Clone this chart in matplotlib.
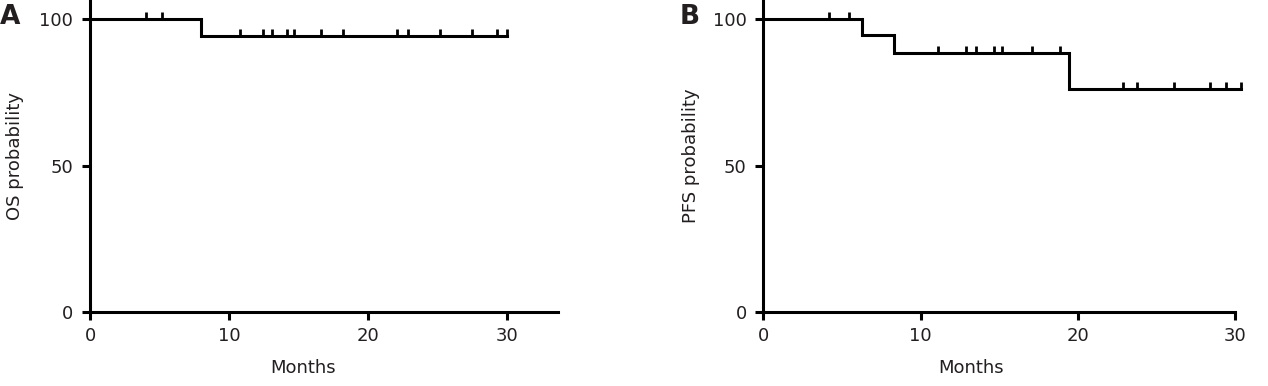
import matplotlib
matplotlib.use("Agg")
import matplotlib.pyplot as plt
import numpy as np

# ---- data ----
os_times = [0, 8.0, 30.0]
os_surv = [100, 94.2, 94.2]
os_censor = [4.0, 5.2, 10.8, 12.45, 13.1, 14.2, 14.7, 16.6, 18.2, 22.1, 22.9, 25.2, 27.5, 29.3, 30.0]

pfs_times = [0, 6.3, 8.3, 19.45, 30.4]
pfs_surv = [100, 94.4, 88.4, 76.0, 76.0]
pfs_censor = [4.18, 5.47, 11.1, 12.9, 13.5, 14.7, 15.2, 17.1, 18.9, 22.9, 23.75, 26.1, 28.4, 29.4, 30.4]

x_ticks = [0, 10, 20, 30]
y_ticks = [0, 50, 100]

TXT = "#231f20"
FS = 13
plt.rcParams['font.family'] = ['DejaVu Sans']

fig = plt.figure(figsize=(12.68, 3.86), dpi=100)
W, H = 1268, 386


def level_at(times, surv, t):
    idx = np.searchsorted(times, t, side='right') - 1
    return np.asarray(surv)[idx]


def panel(rect, times, surv, censor, xlim, ylabel, letter, letter_x, ylab_x, xlab_x):
    ax = fig.add_axes(rect)
    ax.step(times, surv, where='post', color='black', lw=2.2, clip_on=False, solid_joinstyle='miter')
    cs = [level_at(times, surv, t) for t in censor]
    ax.plot(censor, cs, linestyle='none', marker=2, ms=5, mew=2.0, color='black', clip_on=False)
    ax.set_xlim(*xlim)
    ax.set_ylim(0, 106.5)
    ax.set_xticks(x_ticks)
    ax.set_yticks(y_ticks)
    for s in ['top', 'right']:
        ax.spines[s].set_visible(False)
    for s in ['left', 'bottom']:
        ax.spines[s].set_linewidth(2.2)
        ax.spines[s].set_color('black')
    ax.tick_params(axis='both', length=6, width=2.2, color='black', labelsize=FS, labelcolor=TXT)
    ax.tick_params(axis='y', pad=6)
    ax.tick_params(axis='x', pad=5)
    ax.set_xlabel('Months', fontsize=FS, color=TXT, va='center')
    ax.set_ylabel(ylabel, fontsize=FS, color=TXT, va='center')
    ax.xaxis.set_label_coords(xlab_x, -0.179)
    ax.yaxis.set_label_coords(ylab_x, 0.5)
    fig.text(letter_x / W, 1 - 4 / H, letter, fontsize=19, fontweight='bold', color=TXT,
             ha='left', va='top')
    return ax


axA = panel([90 / W, 74 / H, (558 - 90) / W, (386 - 74) / H], os_times, os_surv, os_censor,
            (0, 33.7), 'OS probability', 'A', 0, -0.160, 0.455)
axB = panel([763.3 / W, 74 / H, (1235 - 763.3) / W, (386 - 74) / H], pfs_times, pfs_surv, pfs_censor,
            (0, 30), 'PFS probability', 'B', 680, -0.153, 0.44)

fig.savefig('out.png', dpi=100)
